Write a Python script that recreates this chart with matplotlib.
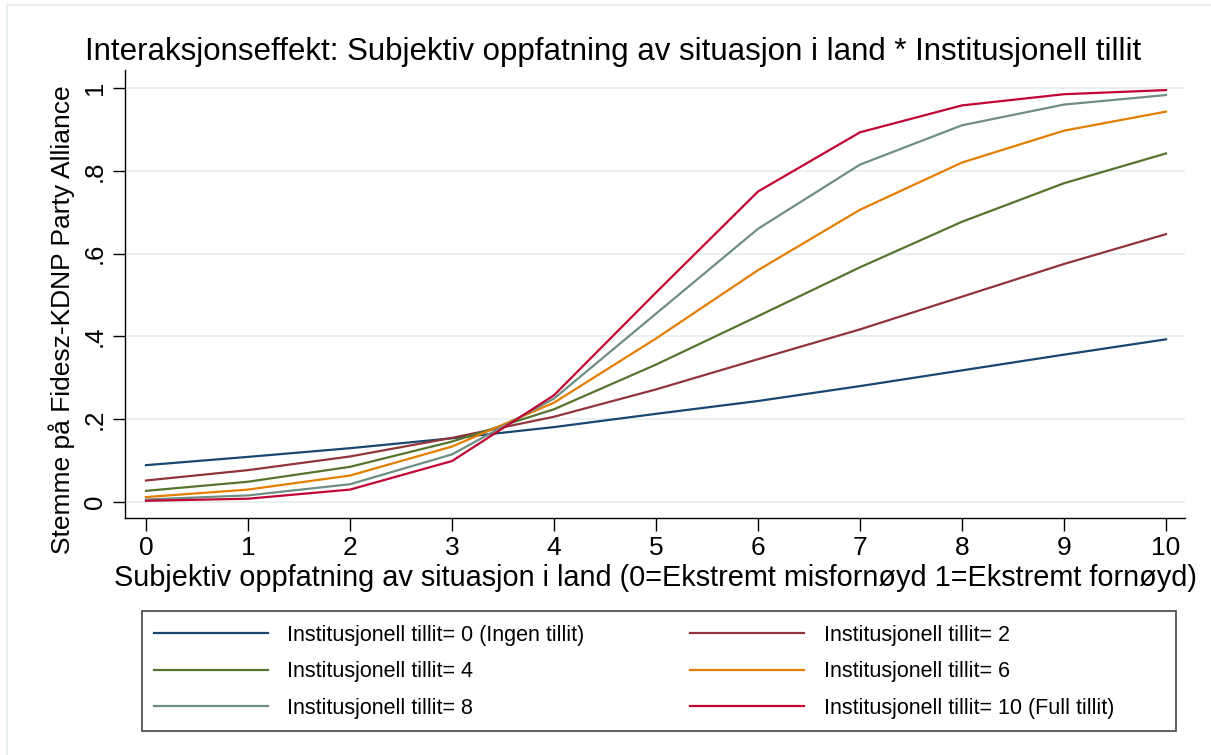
import matplotlib

matplotlib.use("Agg")
import matplotlib.pyplot as plt
from matplotlib.patches import Rectangle

plt.rcParams["font.family"] = ["Liberation Sans", "DejaVu Sans"]

# predicted probabilities, one list per trust level
x_vals = [0, 1, 2, 3, 4, 5, 6, 7, 8, 9, 10]
trust_0 = [0.089, 0.109, 0.130, 0.154, 0.181, 0.213, 0.244, 0.280, 0.318, 0.356, 0.393]
trust_2 = [0.052, 0.077, 0.110, 0.155, 0.206, 0.272, 0.345, 0.417, 0.496, 0.575, 0.647]
trust_4 = [0.027, 0.049, 0.085, 0.146, 0.224, 0.332, 0.449, 0.567, 0.677, 0.770, 0.842]
trust_6 = [0.012, 0.030, 0.064, 0.134, 0.240, 0.395, 0.560, 0.706, 0.820, 0.897, 0.943]
trust_8 = [0.006, 0.016, 0.043, 0.115, 0.250, 0.455, 0.660, 0.815, 0.910, 0.960, 0.983]
trust_10 = [0.003, 0.008, 0.030, 0.099, 0.258, 0.506, 0.750, 0.893, 0.958, 0.985, 0.995]

labels = [
    "Institusjonell tillit= 0 (Ingen tillit)",
    "Institusjonell tillit= 2",
    "Institusjonell tillit= 4",
    "Institusjonell tillit= 6",
    "Institusjonell tillit= 8",
    "Institusjonell tillit= 10 (Full tillit)",
]
colors = ["#1a476f", "#90353b", "#55752f", "#e37e00", "#6e8e84", "#c10534"]
y_ticks = [0, 0.2, 0.4, 0.6, 0.8, 1.0]
y_ticklabels = ["0", ".2", ".4", ".6", ".8", "1"]

W, H = 1211, 755
fig = plt.figure(figsize=(W / 100, H / 100), dpi=100)
# faint outer border of the exported graph
fig.patches.append(Rectangle((7 / W, -0.01), 1.02, 1 - 5 / H + 0.01, transform=fig.transFigure,
                             fill=False, edgecolor="#e4ecee", linewidth=1.2))

ax = fig.add_axes([125 / W, 1 - 518 / H, (1185 - 125) / W, (518 - 70) / H])
series = [trust_0, trust_2, trust_4, trust_6, trust_8, trust_10]
for ys, c, lab in zip(series, colors, labels):
    ax.plot(x_vals, ys, color=c, linewidth=1.6, label=lab, zorder=3)

ax.set_xlim(-0.206, 10.186)
ax.set_ylim(-0.0386, 1.0435)
ax.set_xticks(x_vals)
ax.set_yticks(y_ticks)
ax.set_yticklabels(y_ticklabels, rotation=90, va="center")
for yt in y_ticks:
    ax.axhline(yt, color="#e6eef0", linewidth=1.2, zorder=1)
for s in ("top", "right"):
    ax.spines[s].set_visible(False)
for s in ("left", "bottom"):
    ax.spines[s].set_linewidth(1.0)
ax.tick_params(direction="out", length=9, width=1.0, pad=4)
ax.tick_params(axis="x", labelsize=19)
ax.tick_params(axis="y", labelsize=18.5)

fig.text(613 / W, 1 - 52 / H, "Interaksjonseffekt: Subjektiv oppfatning av situasjon i land * Institusjonell tillit",
         ha="center", va="center", fontsize=22.5)
fig.text(655 / W, 1 - 578 / H,
         "Subjektiv oppfatning av situasjon i land (0=Ekstremt misfornøyd 1=Ekstremt fornøyd)",
         ha="center", va="center", fontsize=20.8)
fig.text(62 / W, 1 - 320 / H, "Stemme på Fidesz-KDNP Party Alliance",
         ha="center", va="center", rotation=90, fontsize=19)

# legend box drawn separately so its padding matches the reference
fig.patches.append(Rectangle((142 / W, 1 - 731 / H), (1176 - 142) / W, (731 - 611) / H,
                             transform=fig.transFigure, fill=False, edgecolor="#444444", linewidth=1.2))
handles, labs = ax.get_legend_handles_labels()
order = [0, 2, 4, 1, 3, 5]
fig.legend([handles[i] for i in order], [labs[i] for i in order], ncol=2,
           loc="upper left", bbox_to_anchor=(154 / W, 1 - 625 / H),
           fontsize=15.5, handlelength=5.3, handletextpad=0.9, columnspacing=4.9,
           borderaxespad=0, borderpad=0, labelspacing=0.72, frameon=False)

fig.savefig("out.png", dpi=100)
